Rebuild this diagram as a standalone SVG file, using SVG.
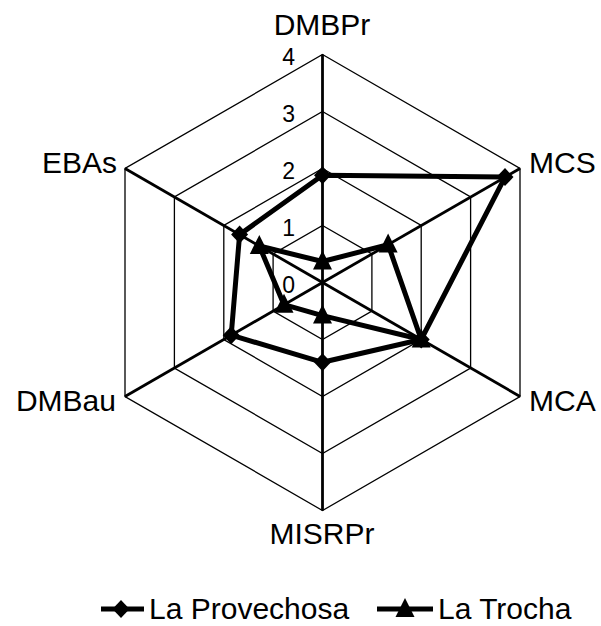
<svg xmlns="http://www.w3.org/2000/svg" xmlns:xlink="http://www.w3.org/1999/xlink" width="601" height="626" viewBox="0 0 601 626">
<style>
.grid{fill:none;stroke:#000;stroke-width:1.3}
.axis{stroke:#000;stroke-width:2.8}
.series{fill:none;stroke:#000;stroke-width:5;stroke-linejoin:round}
.lbl{font-family:"Liberation Sans",Arial,sans-serif;font-size:30px;fill:#000}
.tick{font-family:"Liberation Sans",Arial,sans-serif;font-size:23px;fill:#000;text-anchor:end}
</style>
<defs>
<path id="dia" d="M0,-9 L8.5,0 L0,9 L-8.5,0Z" fill="#000"/>
<path id="tri" d="M0,-11 L9.5,8 L-9.5,8Z" fill="#000"/>
</defs>
<rect width="601" height="626" fill="#fff"/>
<g id="grid">
<polygon class="grid" points="322.5,225.5 371.9,254 371.9,311 322.5,339.5 273.1,311 273.1,254"/>
<polygon class="grid" points="322.5,168.5 421.2,225.5 421.2,339.5 322.5,396.5 223.8,339.5 223.8,225.5"/>
<polygon class="grid" points="322.5,111.5 470.6,197 470.6,368 322.5,453.5 174.4,368 174.4,197"/>
<polygon class="grid" points="322.5,54.5 520,168.5 520,396.5 322.5,510.5 125,396.5 125,168.5"/>
</g>
<g id="axes">
<line class="axis" x1="322.5" y1="282.5" x2="322.5" y2="54.5"/>
<line class="axis" x1="322.5" y1="282.5" x2="520" y2="168.5"/>
<line class="axis" x1="322.5" y1="282.5" x2="520" y2="396.5"/>
<line class="axis" x1="322.5" y1="282.5" x2="322.5" y2="510.5"/>
<line class="axis" x1="322.5" y1="282.5" x2="125" y2="396.5"/>
<line class="axis" x1="322.5" y1="282.5" x2="125" y2="168.5"/>
</g>
<g id="ticks">
<text class="tick" x="295" y="65">4</text>
<text class="tick" x="295" y="122">3</text>
<text class="tick" x="295" y="179">2</text>
<text class="tick" x="295" y="236">1</text>
<text class="tick" x="295" y="293">0</text>
</g>
<g id="axis-labels">
<text class="lbl" x="322" y="35" text-anchor="middle">DMBPr</text>
<text class="lbl" x="529" y="173">MCS</text>
<text class="lbl" x="529" y="411">MCA</text>
<text class="lbl" x="322" y="544" text-anchor="middle">MISRPr</text>
<text class="lbl" x="116" y="411" text-anchor="end">DMBau</text>
<text class="lbl" x="117" y="173" text-anchor="end">EBAs</text>
</g>
<g id="connectors">
<polygon class="series" points="322.5,175.3 505,177.1 421.2,339.5 322.5,362.3 231.2,335.2 239.6,234.6"/>
<polygon class="series" points="322.5,261.5 388.1,244.6 421.2,339.5 322.5,315.6 284,304.7 259.3,246"/>
</g>
<g id="series-provechosa">
<use xlink:href="#dia" x="322.5" y="175.3"/>
<use xlink:href="#dia" x="505" y="177.1"/>
<use xlink:href="#dia" x="421.2" y="339.5"/>
<use xlink:href="#dia" x="322.5" y="362.3"/>
<use xlink:href="#dia" x="231.2" y="335.2"/>
<use xlink:href="#dia" x="239.6" y="234.6"/>
</g>
<g id="series-trocha">
<use xlink:href="#tri" x="322.5" y="261.5"/>
<use xlink:href="#tri" x="388.1" y="244.6"/>
<use xlink:href="#tri" x="421.2" y="339.5"/>
<use xlink:href="#tri" x="322.5" y="315.6"/>
<use xlink:href="#tri" x="284" y="304.7"/>
<use xlink:href="#tri" x="259.3" y="246"/>
</g>
<g id="legend">
<line x1="101" y1="609" x2="144" y2="609" stroke="#000" stroke-width="5"/>
<use xlink:href="#dia" x="121" y="609"/>
<text class="lbl" x="149" y="619">La Provechosa</text>
<line x1="377" y1="609" x2="433" y2="609" stroke="#000" stroke-width="5"/>
<use xlink:href="#tri" x="405" y="609"/>
<text class="lbl" x="438" y="619">La Trocha</text>
</g>
</svg>
